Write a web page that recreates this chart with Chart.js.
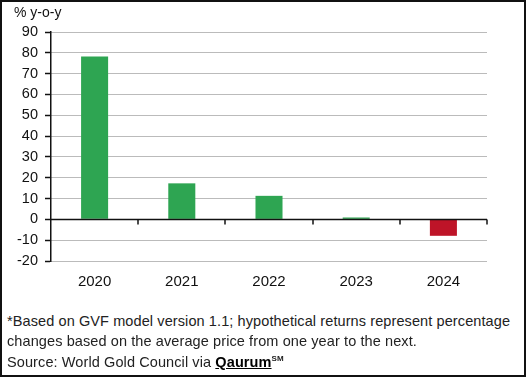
<!DOCTYPE html>
<html>
<head>
<meta charset="utf-8">
<script src="https://cdn.jsdelivr.net/npm/chart.js@4"></script>
<style>
  html, body { margin: 0; padding: 0; background: #fff; }
  #wrap { position: relative; width: 527px; height: 377px; overflow: hidden; font-family: "Liberation Sans", Arial, sans-serif; }
  #frame { position: absolute; left: 0; top: 0; width: 522px; height: 373px; border: 2px solid #111; }
  #cv { position: absolute; left: 0; top: 0; }
  #unit { position: absolute; left: 14px; top: 4px; font-size: 14px; color: #111; }
  .note { position: absolute; left: 7px; font-size: 14.5px; letter-spacing: 0.1px; color: #222; white-space: nowrap; }
  .q { font-weight: bold; text-decoration: underline; color: #000; }
  sup { font-size: 8px; font-weight: bold; vertical-align: 6px; }
</style>
</head>
<body>
<div id="wrap">
  <canvas id="cv" width="527" height="300"></canvas>
  <div id="unit">% y-o-y</div>
  <div class="note" style="top:313px">*Based on GVF model version 1.1; hypothetical returns represent percentage</div>
  <div class="note" style="top:333px">changes based on the average price from one year to the next.</div>
  <div class="note" style="top:354px">Source: World Gold Council via <span class="q">Qaurum</span><sup>SM</sup></div>
  <div id="frame"></div>
</div>
<script>
const categories = ["2020", "2021", "2022", "2023", "2024"];
const returns = [78.2, 17.3, 11.3, 0.9, -7.9];
const yTicks = [90, 80, 70, 60, 50, 40, 30, 20, 10, 0, -10, -20];

const GREEN = "#2ea552";
const RED = "#be1428";

const zeroLinePlugin = {
  id: "zeroLine",
  afterDatasetsDraw(chart) {
    const { ctx, scales: { x, y } } = chart;
    const y0 = Math.round(y.getPixelForValue(0)) + 0.5;
    ctx.save();
    ctx.strokeStyle = "#111";
    ctx.lineWidth = 1.5;
    ctx.beginPath();
    ctx.moveTo(x.left, y0);
    ctx.lineTo(x.right, y0);
    ctx.stroke();
    // category boundary ticks below the zero line
    const half = (x.getPixelForValue(1) - x.getPixelForValue(0)) / 2;
    for (let i = 0; i < categories.length; i++) {
      const xx = Math.round(x.getPixelForValue(i) + half);
      ctx.beginPath();
      ctx.moveTo(xx, y0);
      ctx.lineTo(xx, y0 + 5);
      ctx.stroke();
    }
    ctx.restore();
  }
};

new Chart(document.getElementById("cv"), {
  type: "bar",
  data: {
    labels: categories,
    datasets: [{
      data: returns,
      backgroundColor: returns.map(v => v < 0 ? RED : GREEN),
      borderWidth: 0,
      categoryPercentage: 1,
      barPercentage: 0.31
    }]
  },
  options: {
    responsive: false,
    animation: false,
    layout: { padding: { top: 32, right: 40, left: 0, bottom: 0 } },
    plugins: { legend: { display: false }, tooltip: { enabled: false } },
    scales: {
      x: {
        grid: { display: false, drawTicks: false },
        border: { display: false },
        ticks: { padding: 12, color: "#111", font: { family: "Liberation Sans", size: 15 } },
        afterFit(s) { s.height = 39; }
      },
      y: {
        min: -20, max: 90,
        afterBuildTicks(s) { s.ticks = yTicks.map(v => ({ value: v })); },
        afterFit(s) { s.width = 51; },
        grid: {
          color: "#777",
          lineWidth: 1,
          tickLength: 6,
          tickColor: "#111",
          tickWidth: 1.5,
          tickBorderDash: []
        },
        border: { display: true, color: "#111", width: 1.5, dash: [1, 1] },
        ticks: { padding: 7, color: "#111", font: { family: "Liberation Sans", size: 14.5 } }
      }
    }
  },
  plugins: [zeroLinePlugin]
});
</script>
</body>
</html>
